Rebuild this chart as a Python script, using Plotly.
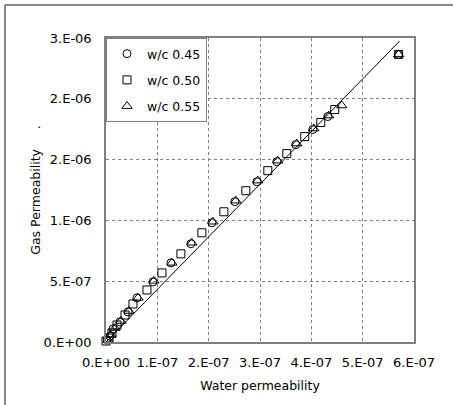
import plotly.graph_objects as go

# ---- data ----
wc045_x = [2e-9, 7.8e-9, 1.36e-8, 2.72e-8, 4.28e-8, 6.03e-8, 9.15e-8, 1.265e-7, 1.654e-7,
           2.063e-7, 2.51e-7, 2.938e-7, 3.328e-7, 3.697e-7, 4.028e-7, 4.32e-7, 5.70e-7]
wc045_y = [1.6e-8, 4.7e-8, 1.07e-7, 1.65e-7, 2.47e-7, 3.63e-7, 4.94e-7, 6.51e-7, 8.08e-7,
           9.81e-7, 1.154e-6, 1.318e-6, 1.483e-6, 1.623e-6, 1.747e-6, 1.854e-6, 2.365e-6]

wc050_x = [0.0, 5.8e-9, 1.17e-8, 2.14e-8, 3.70e-8, 5.25e-8, 7.98e-8, 1.090e-7, 1.459e-7,
           1.868e-7, 2.296e-7, 2.724e-7, 3.152e-7, 3.522e-7, 3.872e-7, 4.184e-7, 4.456e-7, 5.70e-7]
wc050_y = [8e-9, 3.3e-8, 7.4e-8, 1.40e-7, 2.22e-7, 3.13e-7, 4.28e-7, 5.68e-7, 7.25e-7,
           8.98e-7, 1.071e-6, 1.244e-6, 1.409e-6, 1.549e-6, 1.689e-6, 1.805e-6, 1.912e-6, 2.365e-6]

wc055_x = [3.9e-9, 9.7e-9, 1.75e-8, 2.92e-8, 4.48e-8, 6.23e-8, 9.34e-8, 1.284e-7, 1.673e-7,
           2.082e-7, 2.53e-7, 2.958e-7, 3.347e-7, 3.717e-7, 4.048e-7, 4.339e-7, 4.592e-7, 5.70e-7]
wc055_y = [1.6e-8, 5.8e-8, 1.15e-7, 1.73e-7, 2.55e-7, 3.63e-7, 5.03e-7, 6.51e-7, 8.16e-7,
           9.89e-7, 1.162e-6, 1.327e-6, 1.491e-6, 1.632e-6, 1.755e-6, 1.862e-6, 1.945e-6, 2.365e-6]

fit_x = [0.0, 5.72e-7]
fit_y = [0.0, 2.475e-6]

x_tickvals = [0, 1e-7, 2e-7, 3e-7, 4e-7, 5e-7, 6e-7]
x_ticktext = ["0.E+00", "1.E-07", "2.E-07", "3.E-07", "4.E-07", "5.E-07", "6.E-07"]
y_tickvals = [0, 5e-7, 1e-6, 1.5e-6, 2e-6, 2.5e-6]
y_ticktext = ["0.E+00", "5.E-07", "1.E-06", "2.E-06", "2.E-06", "3.E-06"]

FONT = "DejaVu Sans"
GRAY = "#808080"

fig = go.Figure()
fig.add_trace(go.Scatter(x=fit_x, y=fit_y, mode="lines", line=dict(color="black", width=1),
                         showlegend=False, hoverinfo="skip"))
fig.add_trace(go.Scatter(x=wc045_x, y=wc045_y, mode="markers", name="w/c 0.45", legendgroup="a",
                         marker=dict(symbol="circle-open", size=8, color="black", line=dict(width=1)),
                         cliponaxis=False))
fig.add_trace(go.Scatter(x=wc050_x, y=wc050_y, mode="markers", name="w/c 0.50", legendgroup="b",
                         marker=dict(symbol="square-open", size=8, color="black", line=dict(width=1)),
                         cliponaxis=False))
fig.add_trace(go.Scatter(x=wc055_x, y=wc055_y, mode="markers", name="w/c 0.55", legendgroup="c",
                         marker=dict(symbol="triangle-up-open", size=9, color="black", line=dict(width=1)),
                         cliponaxis=False))

axis_common = dict(showgrid=True, gridcolor=GRAY, griddash="dot", gridwidth=1,
                   showline=True, linecolor=GRAY, linewidth=1.5, mirror=True,
                   zeroline=False, ticks="", automargin=False,
                   tickfont=dict(family=FONT, size=13, color="black"),
                   title_font=dict(family=FONT, size=12.5, color="black"))

fig.update_xaxes(range=[0, 6e-7], tickmode="array", tickvals=x_tickvals, ticktext=x_ticktext,
                 title_text="Water permeability", title_standoff=12, ticklabelstandoff=8, **axis_common)
fig.update_yaxes(range=[0, 2.5e-6], tickmode="array", tickvals=y_tickvals, ticktext=y_ticktext,
                 title_text="Gas Permeability     .", title_standoff=0, ticklabelstandoff=10, **axis_common)

# outer frame: only top and left edges are visible in the picture
fig.add_shape(type="line", xref="paper", yref="paper", x0=-0.328, x1=1.25, y0=1.1086, y1=1.1086,
              line=dict(color="#606060", width=1.5), layer="above")
fig.add_shape(type="line", xref="paper", yref="paper", x0=-0.328, x1=-0.328, y0=-0.25, y1=1.1086,
              line=dict(color="#606060", width=1.5), layer="above")

fig.update_layout(
    width=453, height=405,
    margin=dict(l=106, r=39, t=38, b=63),
    paper_bgcolor="white", plot_bgcolor="white",
    font=dict(family=FONT, size=13, color="black"),
    legend=dict(x=0, y=1, xanchor="left", yanchor="top", bgcolor="white",
                bordercolor=GRAY, borderwidth=1, traceorder="grouped", tracegroupgap=7,
                itemwidth=30,
                font=dict(family=FONT, size=12.5, color="black")),
)

fig.write_html("out.html", config={"displayModeBar": False},
               post_script="document.body.style.margin='0px';"
                           "document.body.style.overflow='hidden';"
                           "document.documentElement.style.overflow='hidden';")
